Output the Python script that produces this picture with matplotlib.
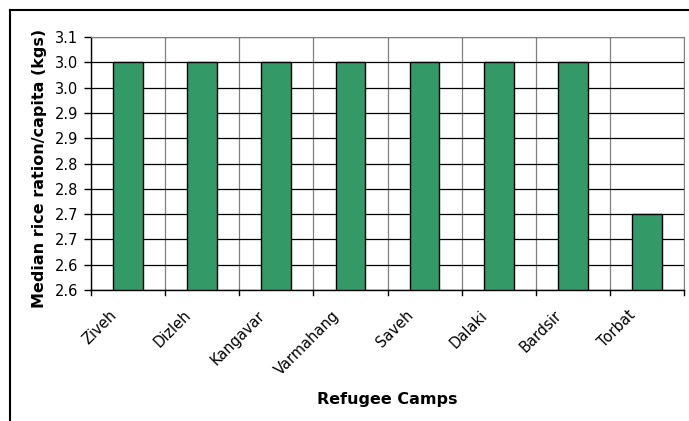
import matplotlib
matplotlib.use("Agg")
import matplotlib.pyplot as plt
import matplotlib.transforms as mtransforms
from matplotlib.lines import Line2D
import numpy as np

camps = ["Ziveh", "Dizleh", "Kangavar", "Varmahang", "Saveh", "Dalaki", "Bardsir", "Torbat"]
ration = [3.05, 3.05, 3.05, 3.05, 3.05, 3.05, 3.05, 2.75]
ytick_values = [2.60, 2.65, 2.70, 2.75, 2.80, 2.85, 2.90, 2.95, 3.00, 3.05, 3.10]
ytick_labels = ["2.6", "2.6", "2.7", "2.7", "2.8", "2.8", "2.9", "2.9", "3.0", "3.0", "3.1"]

plt.rcParams['font.family'] = ['DejaVu Sans']

W, H = 689, 421
fig = plt.figure(figsize=(W / 100, H / 100), dpi=100)
ax = fig.add_axes([91 / W, 1 - 290 / H, (684 - 91) / W, (290 - 37) / H])

x = np.arange(len(camps))
ax.bar(x, [v - 2.6 for v in ration], bottom=2.6, width=0.4, color="#339966",
       edgecolor="black", linewidth=1.0, zorder=3)

ax.set_xlim(-0.5, len(camps) - 0.5)
ax.set_ylim(2.6, 3.1)
ax.set_yticks(ytick_values)
ax.set_yticklabels(ytick_labels, fontsize=10.5)
ax.set_xticks(x)
ax.set_xticklabels(camps, rotation=45, ha="right", va="top", rotation_mode="anchor", fontsize=10.5)
ax.tick_params(axis="x", length=0, pad=2)
ax.tick_params(axis="y", length=5, width=1, direction="out", pad=4)

# shift rotated category labels down-left like the original
shift = mtransforms.ScaledTranslation(-0.19, -0.15, fig.dpi_scale_trans)
for lbl in ax.get_xticklabels():
    lbl.set_transform(lbl.get_transform() + shift)

# category boundary ticks / vertical gridlines
for b in np.arange(-0.5, len(camps), 1.0):
    ax.axvline(b, color="#808080", linewidth=0.9, zorder=1)
    ax.plot([b, b], [0, -0.018], transform=ax.get_xaxis_transform(), color="black",
            linewidth=1, clip_on=False)
ax.yaxis.grid(True, color="black", linewidth=0.9, zorder=1)

for side in ["top", "right"]:
    ax.spines[side].set_color("#808080")
for side in ["left", "bottom"]:
    ax.spines[side].set_color("black")
    ax.spines[side].set_linewidth(1.0)

ax.set_ylabel("Median rice ration/capita (kgs)", fontsize=11.5, fontweight="bold")
ax.yaxis.set_label_coords(-(91 - 47) / (684 - 91), 0.48)
ax.set_xlabel("Refugee Camps", fontsize=11.5, fontweight="bold", va="center")
ax.xaxis.set_label_coords(0.5, -(400 - 290) / (290 - 37))

# outer chart frame (top and left edges visible)
fig.add_artist(Line2D([9.5 / W, 1.0], [1 - 9.5 / H, 1 - 9.5 / H], color="black", linewidth=1.5))
fig.add_artist(Line2D([9.5 / W, 9.5 / W], [0, 1 - 9.5 / H], color="black", linewidth=1.5))

fig.savefig("out.png", dpi=100)
